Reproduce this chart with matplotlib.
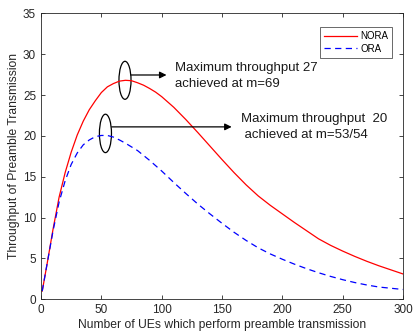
import numpy as np
import matplotlib.pyplot as plt
from matplotlib.patches import Ellipse

plt.rcParams['font.family'] = ['Liberation Sans', 'DejaVu Sans']

# values
m_nora = [1, 5, 10, 15, 20, 25, 30, 35, 40, 45, 50, 55, 60, 65, 70, 75, 80, 85,
          90, 95, 100, 110, 120, 130, 140, 150, 160, 170, 180, 190, 200, 210,
          220, 230, 240, 250, 260, 270, 280, 290, 300]
nora = [1.0, 4.3, 8.6, 12.5, 15.5, 18.0, 20.1, 21.8, 23.2, 24.3, 25.3, 26.0,
        26.4, 26.7, 26.8, 26.75, 26.5, 26.2, 25.8, 25.35, 24.8, 23.5, 22.0, 20.4,
        18.75, 17.1, 15.5, 14.0, 12.65, 11.5, 10.45, 9.4, 8.4, 7.4, 6.6, 5.9,
        5.25, 4.65, 4.1, 3.6, 3.1]

m_ora = [1, 5, 10, 15, 20, 25, 30, 35, 40, 45, 50, 55, 60, 65, 70, 75, 80, 90,
         100, 110, 120, 130, 140, 150, 160, 170, 180, 190, 200, 210, 220, 230,
         240, 250, 260, 270, 280, 290, 300]
ora = [1.0, 4.3, 8.4, 11.9, 14.5, 16.5, 17.9, 18.9, 19.5, 19.9, 20.05, 20.05,
       19.85, 19.5, 19.1, 18.65, 18.2, 17.0, 15.7, 14.3, 12.95, 11.65, 10.45,
       9.3, 8.2, 7.2, 6.3, 5.55, 4.9, 4.3, 3.75, 3.25, 2.8, 2.4, 2.05, 1.75,
       1.5, 1.35, 1.2]

fig = plt.figure(figsize=(4.13, 3.35), dpi=100)
ax = fig.add_axes([0.0993, 0.1066, 0.8765, 0.8537])

ax.plot(m_nora, nora, color='red', lw=0.9, label='NORA')
ax.plot(m_ora, ora, color='blue', lw=0.9, ls=(0, (5, 3.5)), label='ORA')

ax.set_xlim(0, 300)
ax.set_ylim(0, 35)
ax.set_xticks(np.arange(0, 301, 50))
ax.set_yticks(np.arange(0, 36, 5))
ax.tick_params(direction='in', top=True, right=True, labelsize=8.5,
               colors='#262626', length=3, width=0.6)
for s in ax.spines.values():
    s.set_linewidth(0.6)
    s.set_color('#262626')

ax.set_xlabel('Number of UEs which perform preamble transmission', fontsize=8.7,
              color='#262626', labelpad=2)
ax.set_ylabel('Throughput of Preamble Transmission', fontsize=8.7,
              color='#262626', labelpad=2)

# annotations
ax.add_patch(Ellipse((69.6, 26.8), 10, 4.65, fill=False, ec='black', lw=0.9))
ax.annotate('', xy=(104, 27.45), xytext=(74.6, 27.45),
            arrowprops=dict(arrowstyle='-|>', color='black', lw=0.9,
                            mutation_scale=10, shrinkA=0, shrinkB=0))
ax.text(111, 27.3, 'Maximum throughput 27\nachieved at m=69', fontsize=9.5,
        va='center', ha='left', linespacing=1.45, color='#1a1a1a')

ax.add_patch(Ellipse((53.4, 20.3), 10, 4.7, fill=False, ec='black', lw=0.9))
ax.annotate('', xy=(158, 21.1), xytext=(58.6, 21.1),
            arrowprops=dict(arrowstyle='-|>', color='black', lw=0.9,
                            mutation_scale=10, shrinkA=0, shrinkB=0))
ax.text(165.5, 21.1, 'Maximum throughput  20\n achieved at m=53/54', fontsize=9.5,
        va='center', ha='left', linespacing=1.45, color='#1a1a1a')

leg = ax.legend(loc='upper right', fontsize=7, frameon=True, fancybox=False,
                edgecolor='#262626', handlelength=3.4, borderpad=0.4,
                labelspacing=0.25, handletextpad=0.3, bbox_to_anchor=(0.983, 0.968))
leg.get_frame().set_linewidth(0.6)

fig.savefig('out.png', dpi=100)
